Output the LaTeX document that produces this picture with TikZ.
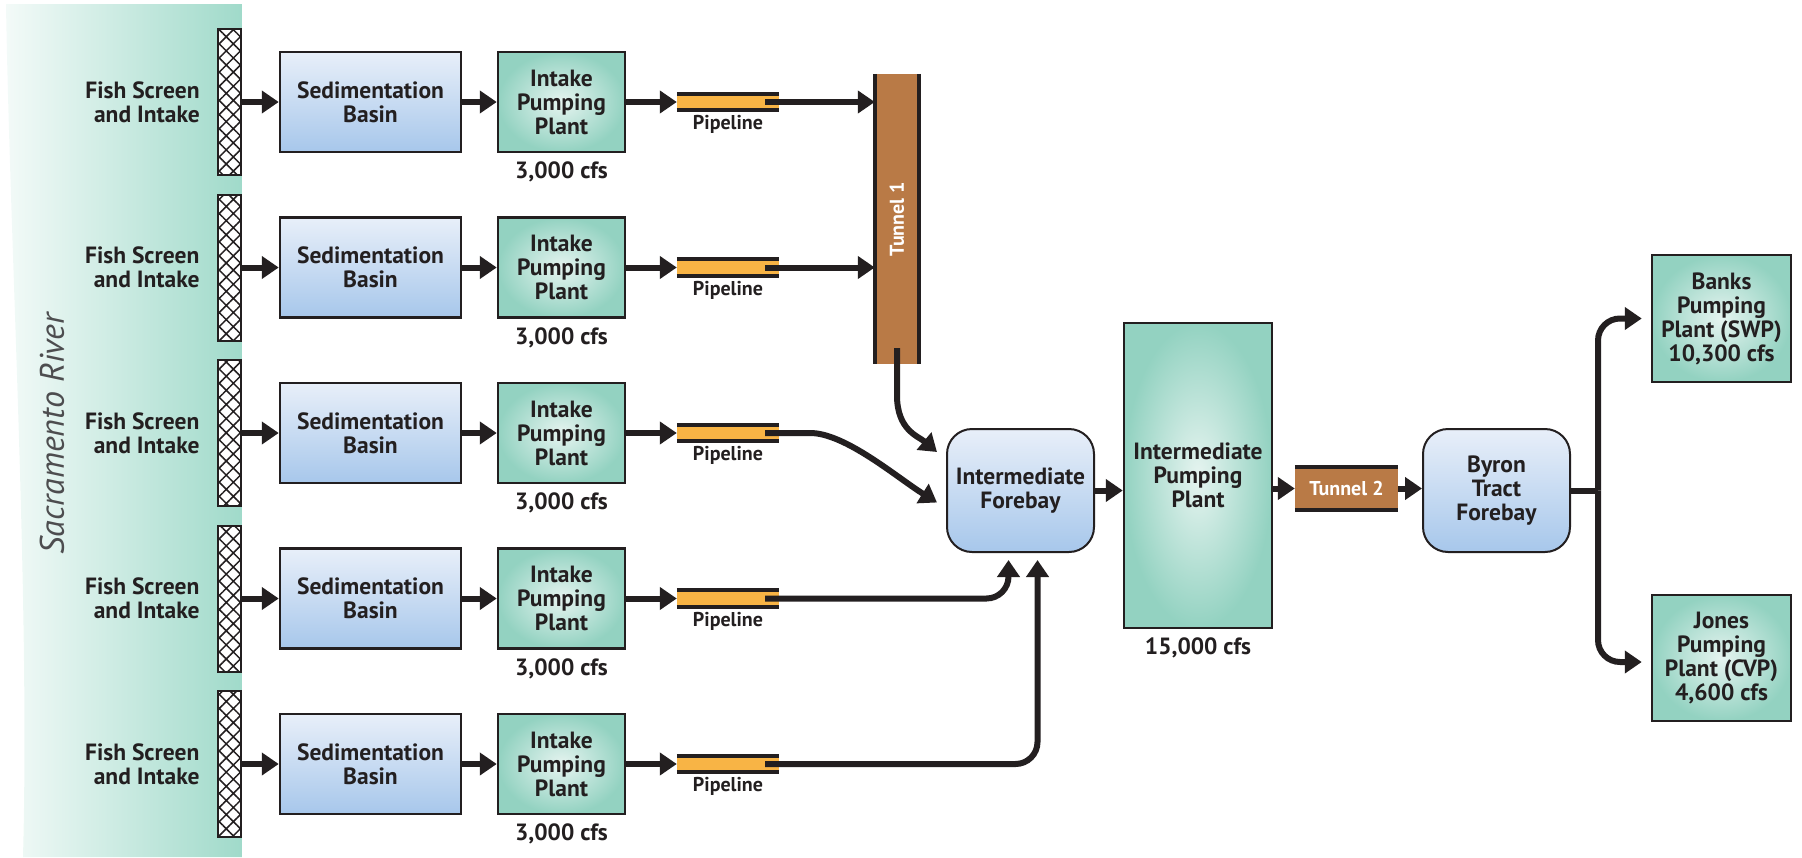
\documentclass[tikz,border=0pt]{standalone}
\usepackage{fontspec}
\setmainfont{PT Sans}
\usetikzlibrary{positioning, arrows.meta, patterns.meta, calc}

\definecolor{ink}{HTML}{231F20}
\definecolor{sedtop}{HTML}{E8EFF9}
\definecolor{sedbot}{HTML}{A7C7EB}
\definecolor{tealin}{HTML}{E6F4F0}
\definecolor{tealout}{HTML}{93D2C1}
\definecolor{rivleft}{HTML}{F3FAF8}
\definecolor{rivright}{HTML}{A0DACA}
\definecolor{pipefill}{HTML}{F8B445}
\definecolor{tunfill}{HTML}{B97A46}
\definecolor{rivtext}{HTML}{4D4D4F}

\begin{document}
\begin{tikzpicture}[
    x=1pt, y=-1pt,
    font=\bfseries\fontsize{23.5}{24}\selectfont, text=ink,
    box/.style={draw=ink, line width=2.5pt, rectangle, inner sep=0pt, align=center},
    sedbox/.style={box, top color=sedtop, bottom color=sedbot, minimum width=181pt, minimum height=100pt},
    pumpbox/.style={box, inner color=tealin, outer color=tealout, minimum width=127pt, minimum height=100pt},
    pondbox/.style={box, line width=2pt, rounded corners=25pt, top color=sedtop, bottom color=sedbot, minimum width=147pt, minimum height=123pt},
    screen/.style={draw=ink, line width=2pt, preaction={fill=white}, pattern={Hatch[angle=45, distance=10pt, line width=1.5pt]}, pattern color=ink, minimum width=23pt, minimum height=146pt, inner sep=0pt},
    pipe/.style={fill=pipefill, minimum width=102pt, minimum height=16pt, inner sep=0pt},
    tunnel/.style={fill=tunfill, inner sep=0pt, text=white, font=\bfseries\fontsize{20}{21}\selectfont},
    small/.style={font=\bfseries\fontsize{20}{21}\selectfont},
    band/.style={draw=ink, line width=4pt},
    line/.style={draw=ink, line width=6pt},
    arr/.style={line, -{Triangle[length=17pt, width=22pt]}}
]
    \useasboundingbox (0,0) rectangle (1802,857);

    % river
    \shade[left color=rivleft, right color=rivright] (6,4) -- (242,4) -- (242,857) -- (23,857)
        .. controls (30,600) and (10,250) .. (6,4) -- cycle;
    \node[rotate=90, font=\itshape\mdseries\fontsize{34}{36}\selectfont, text=rivtext] (river) at (52,434) {Sacramento River};

    \foreach \r/\y in {1/102, 2/267.5, 3/433, 4/598.5, 5/764} {
        \node[screen] (scr\r) at (229.5,\y) {};
        \node[align=right, left=14pt of scr\r] (fish\r) {Fish Screen\\and Intake};
        \node[sedbox] (sed\r) at (370.5,\y) {Sedimentation\\Basin};
        \node[pumpbox] (pump\r) at (561.5,\y) {Intake\\Pumping\\Plant};
        \node[below=5pt of pump\r] (cfs\r) {3,000 cfs};
        \node[pipe] (pipe\r) at (728,\y) {};
        \node[small, below=2pt of pipe\r] (plbl\r) {Pipeline};
        \draw[band] (pipe\r.north west) -- (pipe\r.north east);
        \draw[band] (pipe\r.south west) -- (pipe\r.south east);
        \draw[arr] (scr\r) -- (sed\r);
        \draw[arr] (sed\r) -- (pump\r);
        \draw[arr] (pump\r) -- (pipe\r);
    }

    \node[tunnel, minimum width=44pt, minimum height=290pt,
        label={[tunnel, rotate=90]center:Tunnel 1}] (tun1) at (897,219) {};
    \draw[band] (tun1.north west) -- (tun1.south west);
    \draw[band] (tun1.north east) -- (tun1.south east);

    \node[pondbox] (fore) at (1020.5,490.5) {Intermediate\\Forebay};
    \node[box, inner color=tealin, outer color=tealout, minimum width=148pt, minimum height=305pt] (ipp) at (1198,475.5) {Intermediate\\Pumping\\Plant};
    \node[below=5pt of ipp] (ippcfs) {15,000 cfs};

    \node[tunnel, minimum width=103pt, minimum height=43pt] (tun2) at (1346.5,488.5) {Tunnel 2};
    \draw[band] (tun2.north west) -- (tun2.north east);
    \draw[band] (tun2.south west) -- (tun2.south east);

    \node[pondbox] (byron) at (1496.5,490.5) {Byron\\Tract\\Forebay};
    \node[box, inner color=tealin, outer color=tealout, minimum width=139pt, minimum height=127pt] (banks) at (1721.5,318.5) {Banks\\Pumping\\Plant (SWP)\\10,300 cfs};
    \node[box, inner color=tealin, outer color=tealout, minimum width=139pt, minimum height=126pt] (jones) at (1721.5,658) {Jones\\Pumping\\Plant (CVP)\\4,600 cfs};

    % pipelines to tunnel 1 and forebay
    \draw[arr] ([xshift=-14pt]pipe1.east) -- (pipe1 -| tun1.west);
    \draw[arr] ([xshift=-14pt]pipe2.east) -- (pipe2 -| tun1.west);
    \draw[arr] ([yshift=16pt]tun1.south) -- ++(0,47)
        .. controls +(0,35) and +(-19,-16) .. ([xshift=-9pt, yshift=-24pt]fore.north west);
    \draw[arr] ([xshift=-14pt]pipe3.east) -- ++(45,0)
        .. controls +(35,0) and +(-40,-25) .. ([xshift=-9pt, yshift=-12pt]fore.west);
    \draw[arr, rounded corners=22pt] ([xshift=-14pt]pipe4.east) -| ([xshift=-12pt, yshift=-7pt]fore.south);
    \draw[arr, rounded corners=22pt] ([xshift=-14pt]pipe5.east) -| ([xshift=17pt, yshift=-7pt]fore.south);

    \draw[arr] (fore.east) -- (fore.east -| ipp.west);
    \draw[arr] (ipp.east |- tun2) -- (tun2.west);
    \draw[arr] (tun2.east) -- (tun2.east -| byron.west);

    \draw[line] (byron.east) -- ++(27,0) coordinate (split);
    \draw[arr, rounded corners=22pt] (split) |- ([xshift=-9pt]banks.west);
    \draw[arr, rounded corners=22pt] (split) |- ([xshift=-9pt, yshift=-4pt]jones.west);

\end{tikzpicture}
\end{document}
